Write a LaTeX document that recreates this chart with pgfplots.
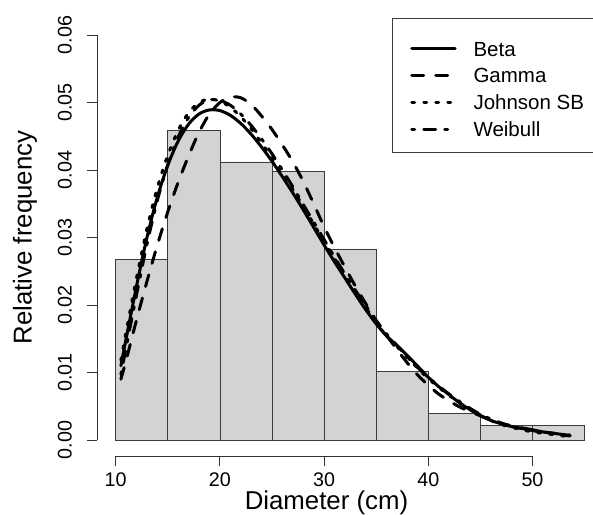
\documentclass[border=0pt]{standalone}
\usepackage{fontspec}
\setmainfont{Liberation Sans}
\usepackage{pgfplots}
\pgfplotsset{compat=1.18}

\definecolor{barfill}{RGB}{211,211,211}
\definecolor{edge}{RGB}{60,60,60}
\definecolor{axgray}{RGB}{50,50,50}

\tikzset{
  betastyle/.style={black, line width=3pt, line cap=round, line join=round},
  gammastyle/.style={black, line width=3pt, line cap=round, line join=round, dash pattern=on 12pt off 12pt},
  jsbstyle/.style={black, line width=3pt, line cap=round, line join=round, dash pattern=on 3pt off 9pt},
  weibullstyle/.style={black, line width=3pt, line cap=round, line join=round, dash pattern=on 3pt off 9pt on 12pt off 9pt},
}

\begin{document}
\begin{tikzpicture}
\clip (-96.94pt,-57.8pt) rectangle (496.06pt,456.2pt);
\begin{axis}[
  at={(0pt,0pt)}, anchor=south west,
  scale only axis, width=506.4pt, height=437.4pt,
  xmin=8.2, xmax=56.8, ymin=-0.0024, ymax=0.0624,
  clip=false,
  axis line style={draw=none},
  xtick={10,20,30,40,50},
  ytick={0,0.01,0.02,0.03,0.04,0.05,0.06},
  xtick pos=left, ytick pos=left,
  tick align=outside, major tick length=10pt,
  tick style={axgray, line width=0.8pt},
  scaled y ticks=false,
  /pgf/number format/assume math mode=true,
  ticklabel style={font=\fontsize{19.7}{22}\selectfont},
  yticklabel={\pgfmathprintnumber[fixed, fixed zerofill, precision=2]{\tick}},
  yticklabel style={xshift=-15.2pt, rotate=90, anchor=base},
  xticklabel style={anchor=base, yshift=-20.5pt},
  xlabel={Diameter (cm)},
  ylabel={Relative frequency},
  label style={font=\fontsize{25.8}{28}\selectfont},
  xlabel style={at={(axis cs:30.23,-0.01027)}, anchor=base},
  ylabel style={at={(axis cs:1.942,0.03)}, anchor=base, rotate=0},
]
% histogram
\addplot[ybar interval, fill=barfill, draw=edge, line width=0.7pt] coordinates {
(10,0.0267) (15,0.0458) (20,0.0412) (25,0.0398) (30,0.0283)
(35,0.0101) (40,0.0040) (45,0.0021) (50,0.0021) (55,0.0021)};

% Beta
\addplot[betastyle, smooth] coordinates {
(10.5,0.0110) (11,0.0150) (12,0.0228) (13,0.0300) (14,0.0360) (15,0.0407)
(16,0.0443) (17,0.0468) (18,0.0483) (19,0.0489) (20,0.0488) (21,0.0481)
(22,0.0469) (23,0.0453) (24,0.0434) (25,0.0413) (26,0.0390) (27,0.0366)
(28,0.0341) (29,0.0315) (30,0.0289) (31,0.0264) (32,0.0240) (33,0.0216)
(34,0.0193) (35,0.0172) (36,0.0154) (37,0.0140) (38,0.0125) (39,0.0109)
(40,0.0093) (41,0.0079) (42,0.0067) (43,0.0055) (44,0.0045) (45,0.0036)
(46,0.0029) (47,0.0024) (48,0.0020) (49,0.0017) (50,0.0015) (51,0.0012)
(52,0.0010) (53,0.0008) (53.6,0.0007)};

% Gamma
\addplot[gammastyle, smooth] coordinates {
(10.5,0.0090) (11,0.0118) (12,0.0178) (13,0.0235) (14,0.0289) (15,0.0338)
(16,0.0382) (17,0.0421) (18,0.0456) (19,0.0483) (20,0.0500) (21,0.0508)
(22,0.0507) (23,0.0497) (24,0.0480) (25,0.0460) (26,0.0437) (27,0.0412)
(28,0.0383) (29,0.0350) (30,0.0316) (31,0.0285) (32,0.0256) (33,0.0228)
(34,0.0202) (35,0.0177) (36,0.0155) (37,0.0134) (38,0.0114) (39,0.0096)
(40,0.0081) (41,0.0068) (42,0.0058) (43,0.0049) (44,0.0042) (45,0.0036)
(46,0.0030) (47,0.0025) (48,0.0021) (49,0.0018) (50,0.0015) (51,0.0012)
(52,0.0010) (53,0.0008) (53.6,0.0007)};

% Johnson SB
\addplot[jsbstyle, smooth] coordinates {
(10.5,0.0118) (11,0.0160) (12,0.0240) (13,0.0313) (14,0.0374) (15,0.0422)
(16,0.0459) (17,0.0485) (18,0.0500) (19,0.0505) (20,0.0502) (21,0.0493)
(22,0.0479) (23,0.0461) (24,0.0440) (25,0.0418) (26,0.0395) (27,0.0371)
(28,0.0346) (29,0.0320) (30,0.0294) (31,0.0269) (32,0.0244) (33,0.0220)
(34,0.0196) (35,0.0174) (36,0.0154) (37,0.0138) (38,0.0122) (39,0.0106)
(40,0.0091) (41,0.0078) (42,0.0066) (43,0.0055) (44,0.0045) (45,0.0036)
(46,0.0029) (47,0.0023) (48,0.0019) (49,0.0015) (50,0.0012) (51,0.0010)
(52,0.0008) (53,0.0006) (53.6,0.0005)};

% Weibull
\addplot[weibullstyle, smooth] coordinates {
(10.5,0.0097) (11,0.0137) (12,0.0215) (13,0.0290) (14,0.0355) (15,0.0408)
(16,0.0449) (17,0.0478) (18,0.0496) (19,0.0504) (20,0.0503) (21,0.0496)
(22,0.0483) (23,0.0466) (24,0.0446) (25,0.0424) (26,0.0400) (27,0.0375)
(28,0.0349) (29,0.0323) (30,0.0297) (31,0.0271) (32,0.0246) (33,0.0222)
(34,0.0199) (35,0.0177) (36,0.0157) (37,0.0140) (38,0.0123) (39,0.0107)
(40,0.0093) (41,0.0080) (42,0.0068) (43,0.0057) (44,0.0047) (45,0.0038)
(46,0.0031) (47,0.0025) (48,0.0020) (49,0.0017) (50,0.0014) (51,0.0011)
(52,0.0009) (53,0.0007) (53.6,0.0006)};

% axis lines (R style, first to last tick)
\draw[axgray, line width=0.8pt] (axis cs:10,-0.0024) -- (axis cs:50,-0.0024);
\draw[axgray, line width=0.8pt] (axis cs:8.2,0) -- (axis cs:8.2,0.06);
\end{axis}

% legend
\draw[edge, line width=0.8pt] (295.8pt,303.5pt) rectangle (506.4pt,437.4pt);
\draw[betastyle] (314.8pt,407.2pt) -- (358.1pt,407.2pt);
\draw[gammastyle] (314.8pt,380.5pt) -- (358.1pt,380.5pt);
\draw[jsbstyle] (314.8pt,353.8pt) -- (358.1pt,353.8pt);
\draw[weibullstyle] (314.8pt,327.1pt) -- (358.1pt,327.1pt);
\begin{scope}[every node/.style={anchor=base west, inner sep=0pt, font=\fontsize{20.5}{23}\selectfont}]
\node at (376.4pt,399.9pt) {Beta};
\node at (376.4pt,373.2pt) {Gamma};
\node at (376.4pt,346.5pt) {Johnson SB};
\node at (376.4pt,319.8pt) {Weibull};
\end{scope}
\end{tikzpicture}
\end{document}
